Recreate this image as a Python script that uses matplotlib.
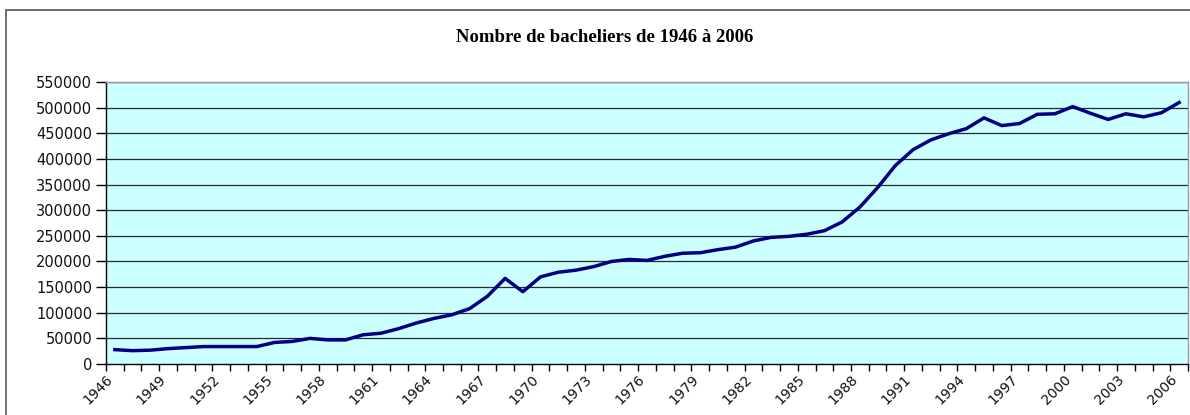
import matplotlib

matplotlib.use("Agg")
import matplotlib.pyplot as plt  # noqa: E402
from matplotlib.patches import Rectangle  # noqa: E402
from matplotlib.ticker import FixedLocator, NullFormatter  # noqa: E402
import matplotlib.transforms as mtransforms  # noqa: E402


TITLE = "Nombre de bacheliers de 1946 à 2006"

years = list(range(1946, 2007))
bacheliers = [
    28000, 26000, 27000, 30000, 32000, 34000, 34000, 34000, 34000, 42000,
    44000, 50000, 47000, 47000, 57000, 60000, 69000, 80000, 89000, 96000,
    108000, 132000, 167000, 141000, 170000, 179000, 183000, 190000, 200000, 204000,
    202000, 210000, 216000, 217000, 223000, 228000, 240000, 247000, 249000, 253000,
    260000, 277000, 306000, 344000, 387000, 418000, 437000, 449000, 459000, 480000,
    465000, 469000, 487000, 488000, 502000, 489000, 477000, 488000, 482000, 490000,
    510000,
]
label_years = years[::3]
y_ticks = list(range(0, 550001, 50000))


def main() -> None:
    fig = plt.figure(figsize=(11.9, 4.15), dpi=100)

    # outer chart-area frame (runs off the right/bottom edge in the source)
    fig.patches.append(Rectangle((6 / 1190, -0.05), 1.2, 1 - 10 / 415 + 0.05,
                                 transform=fig.transFigure, fill=False,
                                 edgecolor="#555555", linewidth=1.2))

    ax = fig.add_axes([106 / 1190, 51 / 415, 1082 / 1190, 282 / 415])
    ax.set_facecolor("#ccffff")

    for value in y_ticks[1:]:
        ax.axhline(value, color="#2a2a2a", linewidth=0.9, zorder=1)

    ax.plot(years, bacheliers, color="#000080", linewidth=2.5,
            solid_joinstyle="round", zorder=3)

    ax.set_xlim(years[0] - 0.5, years[-1] + 0.5)
    ax.set_ylim(0, 550000)

    for side in ("top", "right"):
        ax.spines[side].set_color("#999999")
        ax.spines[side].set_linewidth(1.0)
    for side in ("left", "bottom"):
        ax.spines[side].set_color("black")
        ax.spines[side].set_linewidth(1.0)

    ax.set_yticks(y_ticks)
    ax.set_yticklabels([str(v) for v in y_ticks], fontsize=10.5,
                       family="DejaVu Sans", color="#111111")
    ax.tick_params(axis="y", direction="out", length=7, width=1, pad=3)

    # tick marks between categories, labels under every third category
    ax.xaxis.set_major_locator(FixedLocator([y - 0.5 for y in years] + [years[-1] + 0.5]))
    ax.xaxis.set_major_formatter(NullFormatter())
    ax.xaxis.set_minor_locator(FixedLocator(label_years))
    ax.set_xticklabels([str(y) for y in label_years], minor=True, fontsize=10,
                       family="DejaVu Sans", color="#111111",
                       rotation=45, ha="right", va="top", rotation_mode="anchor")
    ax.tick_params(axis="x", which="major", direction="out", length=5, width=1)
    ax.tick_params(axis="x", which="minor", length=0, pad=6)
    shift = mtransforms.ScaledTranslation(-9 / 100, 0, fig.dpi_scale_trans)
    for label in ax.xaxis.get_minorticklabels():
        label.set_transform(label.get_transform() + shift)

    fig.text(0.508, 1 - 37 / 415, TITLE, ha="center", va="center",
             fontsize=13.5, fontweight="bold", family="Liberation Serif")

    fig.savefig("out.png", dpi=100)
    plt.close(fig)


if __name__ == "__main__":
    main()
